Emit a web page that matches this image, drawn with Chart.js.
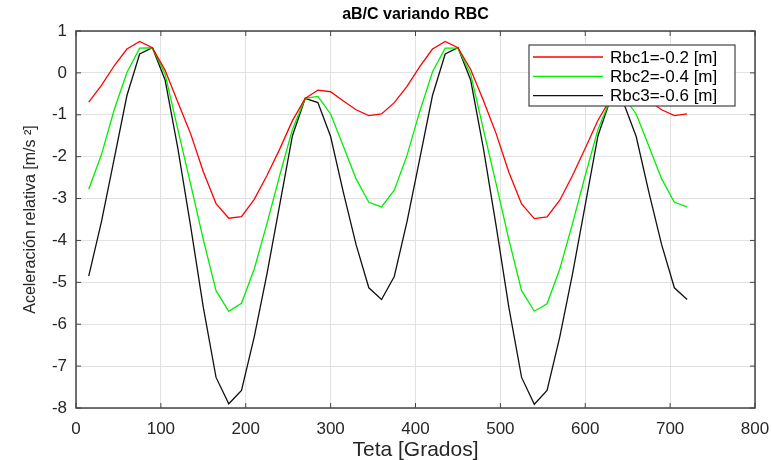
<!DOCTYPE html>
<html>
<head>
<meta charset="utf-8">
<script src="https://cdn.jsdelivr.net/npm/chart.js"></script>
<style>
  body { margin: 0; background: #fff; }
</style>
</head>
<body>
<canvas id="plot" width="772" height="460"></canvas>
<script>
// angle in degrees
const teta = [15, 30, 45, 60, 75, 90, 105, 120, 135, 150, 165, 180,
              195, 210, 225, 240, 255, 270, 285, 300, 315, 330, 345, 360,
              375, 390, 405, 420, 435, 450, 465, 480, 495, 510, 525, 540,
              555, 570, 585, 600, 615, 630, 645, 660, 675, 690, 705, 720];

const rbc1 = [-0.70, -0.30, 0.17, 0.57, 0.75, 0.60, 0.06, -0.70, -1.45, -2.36, -3.12, -3.47,
              -3.43, -3.02, -2.45, -1.82, -1.14, -0.61, -0.41, -0.45, -0.67, -0.88, -1.02, -0.98,
              -0.71, -0.32, 0.15, 0.57, 0.75, 0.60, 0.08, -0.66, -1.45, -2.37, -3.13, -3.48,
              -3.44, -3.04, -2.45, -1.80, -1.13, -0.61, -0.41, -0.45, -0.67, -0.88, -1.02, -0.98];

const rbc2 = [-2.78, -1.95, -0.88, 0.01, 0.59, 0.60, -0.03, -1.35, -2.65, -3.98, -5.20, -5.69,
              -5.50, -4.68, -3.60, -2.45, -1.35, -0.61, -0.56, -0.98, -1.75, -2.53, -3.09, -3.20,
              -2.80, -1.97, -0.92, 0.02, 0.59, 0.59, -0.03, -1.35, -2.65, -3.98, -5.20, -5.69,
              -5.51, -4.68, -3.60, -2.45, -1.35, -0.61, -0.56, -0.98, -1.75, -2.53, -3.09, -3.20];

const rbc3 = [-4.85, -3.55, -2.05, -0.54, 0.45, 0.60, -0.17, -1.80, -3.65, -5.60, -7.27, -7.90,
              -7.58, -6.30, -4.80, -3.15, -1.50, -0.61, -0.71, -1.52, -2.85, -4.10, -5.13, -5.41,
              -4.86, -3.55, -2.05, -0.54, 0.45, 0.60, -0.17, -1.80, -3.65, -5.60, -7.27, -7.91,
              -7.58, -6.30, -4.80, -3.15, -1.50, -0.61, -0.71, -1.52, -2.85, -4.10, -5.13, -5.41];

const seriesNames = ['Rbc1=-0.2 [m]', 'Rbc2=-0.4 [m]', 'Rbc3=-0.6 [m]'];
const seriesColors = ['#ff0000', '#00ee00', '#111111'];

Chart.defaults.font.family = '"Liberation Sans", Arial, sans-serif';
Chart.defaults.color = '#262626';

function toPoints(ys) {
    return teta.map((t, i) => ({ x: t, y: ys[i] }));
}

// box round the axes, inward ticks, title and legend like a matlab figure
const matlabFrame = {
    id: 'matlabFrame',
    afterDatasetsDraw(chart) {
        const { ctx, chartArea: a, scales } = chart;
        const x = scales.x, y = scales.y;
        ctx.save();
        ctx.strokeStyle = '#444';
        ctx.lineWidth = 1.5;
        ctx.strokeRect(a.left, a.top, a.right - a.left, a.bottom - a.top);

        ctx.lineWidth = 1;
        ctx.beginPath();
        x.ticks.forEach(t => {
            const px = x.getPixelForValue(t.value);
            ctx.moveTo(px, a.bottom); ctx.lineTo(px, a.bottom - 5);
            ctx.moveTo(px, a.top); ctx.lineTo(px, a.top + 5);
        });
        y.ticks.forEach(t => {
            const py = y.getPixelForValue(t.value);
            ctx.moveTo(a.left, py); ctx.lineTo(a.left + 5, py);
            ctx.moveTo(a.right, py); ctx.lineTo(a.right - 5, py);
        });
        ctx.stroke();

        // title
        ctx.fillStyle = '#000';
        ctx.font = 'bold 16px "Liberation Sans", Arial, sans-serif';
        ctx.textAlign = 'center';
        ctx.textBaseline = 'middle';
        ctx.fillText('aB/C variando RBC', (a.left + a.right) / 2, 15);

        // legend
        const bw = 206, bh = 61;
        const bx = a.right - 20 - bw, by = a.top + 14;
        ctx.fillStyle = '#fff';
        ctx.fillRect(bx, by, bw, bh);
        ctx.strokeStyle = '#444';
        ctx.lineWidth = 1.2;
        ctx.strokeRect(bx, by, bw, bh);
        ctx.font = '17px "Liberation Sans", Arial, sans-serif';
        ctx.textAlign = 'left';
        chart.data.datasets.forEach((ds, i) => {
            const ry = by + 12 + i * 19.3;
            ctx.strokeStyle = ds.borderColor;
            ctx.lineWidth = 1.3;
            ctx.beginPath();
            ctx.moveTo(bx + 4, ry);
            ctx.lineTo(bx + 74, ry);
            ctx.stroke();
            ctx.fillStyle = '#000';
            ctx.fillText(ds.label, bx + 81, ry + 1);
        });
        ctx.restore();
    }
};

new Chart(document.getElementById('plot'), {
    type: 'line',
    data: {
        datasets: [rbc1, rbc2, rbc3].map((ys, i) => ({
            label: seriesNames[i],
            data: toPoints(ys),
            borderColor: seriesColors[i],
            borderWidth: 1.3,
            pointRadius: 0,
            tension: 0,
            fill: false
        }))
    },
    options: {
        responsive: false,
        animation: false,
        layout: { padding: { top: 31, right: 17, left: 0, bottom: 0 } },
        plugins: {
            legend: { display: false },
            tooltip: { enabled: false }
        },
        scales: {
            x: {
                type: 'linear',
                min: 0,
                max: 800,
                ticks: { stepSize: 100, padding: 11, maxRotation: 0, font: { size: 17 } },
                grid: { color: '#e2e2e2', drawTicks: false },
                border: { display: false },
                title: {
                    display: true,
                    text: 'Teta [Grados]',
                    font: { size: 21, lineHeight: 0.9 },
                    padding: { top: 0, bottom: 0 }
                },
                afterFit(scale) {
                    scale.height = 52;
                    scale.paddingLeft = 0;
                    scale.paddingRight = 0;
                }
            },
            y: {
                min: -8,
                max: 1,
                ticks: { stepSize: 1, padding: 9, font: { size: 17 } },
                grid: { color: '#e2e2e2', drawTicks: false },
                border: { display: false },
                title: {
                    display: true,
                    text: 'Aceleración relativa [m/s ²]',
                    font: { size: 16 },
                    padding: { top: 21, bottom: 0 }
                },
                afterFit(scale) {
                    scale.width = 76;
                    scale.paddingTop = 0;
                    scale.paddingBottom = 0;
                }
            }
        }
    },
    plugins: [matlabFrame]
});
</script>
</body>
</html>
